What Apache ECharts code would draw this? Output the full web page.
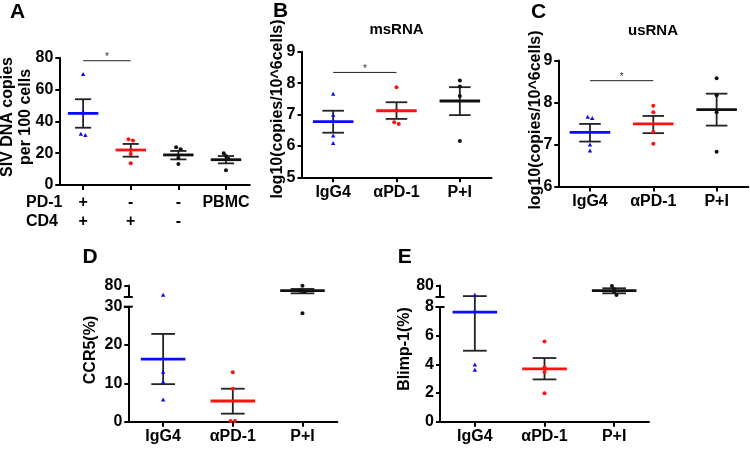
<!DOCTYPE html>
<html><head><meta charset="utf-8">
<script src="https://cdn.jsdelivr.net/npm/echarts/dist/echarts.min.js"></script>
<style>html,body{margin:0;padding:0;background:#fff}#c{width:750px;height:449px}</style>
</head><body><div id="c"></div>
<script>
const FONT = '"Liberation Sans", Arial, Helvetica, sans-serif';

// ---------- Panel A : SIV DNA ----------
const aPD1Row = ['+', '-', '-', 'PBMC'];
const aCD4Row = ['+', '+', '-', ''];
const aYTicks = [0, 20, 40, 60, 80];
const aMean = [45.0, 22.0, 18.9, 15.9];
const aSemLow = [36.0, 17.8, 16.1, 13.6];
const aSemHigh = [53.9, 25.8, 21.4, 18.2];
const aPtsG0 = [69.5, 46.0, 32.0, 31.2];
const aPtsG1 = [28.7, 28.0, 19.5, 13.6];
const aPtsG2 = [23.7, 22.4, 17.0, 13.2];
const aPtsG3 = [19.9, 18.2, 16.5, 9.2];
const aSig = [0, 1, 78.1];

// ---------- shared categories ----------
const groupCats = ['IgG4', 'αPD-1', 'P+I'];

// ---------- Panel B : msRNA ----------
const bTitle = 'msRNA';
const bYTicks = [5, 6, 7, 8, 9];
const bMean = [6.77, 7.12, 7.43];
const bSemLow = [6.42, 6.86, 6.98];
const bSemHigh = [7.12, 7.39, 7.87];
const bPtsG0 = [7.65, 6.98, 6.32, 6.08];
const bPtsG1 = [7.87, 7.14, 6.75, 6.70];
const bPtsG2 = [8.08, 7.89, 7.59, 6.16];
const bSig = [0, 1, 8.34];

// ---------- Panel C : usRNA ----------
const cTitle = 'usRNA';
const cYTicks = [6, 7, 8, 9];
const cMean = [7.29, 7.49, 7.83];
const cSemLow = [7.07, 7.27, 7.45];
const cSemHigh = [7.49, 7.68, 8.21];
const cPtsG0 = [7.65, 7.62, 6.99, 6.85];
const cPtsG1 = [7.92, 7.77, 7.30, 7.02];
const cPtsG2 = [8.58, 8.17, 7.77, 6.83];
const cSig = [0, 1, 8.52];

// ---------- Panel D : CCR5 (broken axis) ----------
const dLowTicks = [0, 10, 20, 30];
const dHighTicks = [70, 80];
const dHighLabels = [80];
const dMean = [16.3, 5.4, 75.5];
const dSemLow = [9.8, 2.1, 73.2];
const dSemHigh = [22.9, 8.6, 77.0];
const dPtsG0 = [33.0, 12.9, 10.3, 5.7];
const dPtsG1 = [12.9, 8.6, 0.2, 0.2];
const dPtsG2 = [79.8, 75.4, 74.5, 28.3];

// ---------- Panel E : Blimp-1 (broken axis) ----------
const eLowTicks = [0, 2, 4, 6, 8];
const eHighTicks = [70, 80];
const eHighLabels = [80];
const eMean = [7.64, 3.69, 75.5];
const eSemLow = [4.95, 2.95, 73.2];
const eSemHigh = [8.76, 4.44, 77.6];
const ePtsG0 = [8.83, 7.71, 3.97, 3.60];
const ePtsG1 = [5.60, 3.79, 3.46, 1.98];
const ePtsG2 = [79.6, 77.0, 74.6, 71.7];

// ---------- styles ----------
const BLUE = '#0b0bf5', RED = '#ff1111', BLACK = '#111111', BAR = '#222222';
const colors4 = [BLUE, RED, BLACK, BLACK];
const shapes4 = ['triangle', 'circle', 'circle', 'circle'];

const grids = [
  {left: 59.3, top: 57.7, width: 190.5, height: 127.3},   // A
  {left: 301.5, top: 51.7, width: 190, height: 125.6},    // B
  {left: 558.3, top: 60.5, width: 190, height: 126},      // C
  {left: 128.3, top: 306.7, width: 209, height: 115},     // D low
  {left: 128.3, top: 285.5, width: 209, height: 11.5},    // D high
  {left: 440, top: 307, width: 209, height: 114.7},       // E low
  {left: 440, top: 285.5, width: 209, height: 11.5}       // E high
];

function xAxisCfg(gi, cats, extra) {
  return Object.assign({
    gridIndex: gi, type: 'category', data: cats, boundaryGap: true,
    axisLine: {show: true, onZero: false, lineStyle: {color: '#000', width: 2}},
    axisTick: {show: true, alignWithLabel: true, length: 5, lineStyle: {color: '#000', width: 2}},
    axisLabel: {show: true, interval: 0, color: '#000', fontFamily: FONT, fontWeight: 'bold', fontSize: 16, margin: 7},
    splitLine: {show: false}
  }, extra || {});
}
function yAxisCfg(gi, ticks, extra) {
  return Object.assign({
    gridIndex: gi, type: 'value', min: ticks[0], max: ticks[ticks.length - 1], interval: ticks[1] - ticks[0],
    axisLine: {show: true, lineStyle: {color: '#000', width: 2}},
    axisTick: {show: true, length: 4, lineStyle: {color: '#000', width: 2}},
    axisLabel: {color: '#000', fontFamily: FONT, fontWeight: 'bold', fontSize: 16, margin: 6},
    splitLine: {show: false}
  }, extra || {});
}
const hiddenX = {axisLine: {show: false}, axisTick: {show: false}, axisLabel: {show: false}};

const aCats = aPD1Row.map((p, i) => p + '\n' + aCD4Row[i]);

const xAxes = [
  xAxisCfg(0, aCats, {axisLabel: {show: true, interval: 0, color: '#000', fontFamily: FONT, fontWeight: 'bold', fontSize: 16, margin: 8.5, lineHeight: 19}}),
  xAxisCfg(1, groupCats),
  xAxisCfg(2, groupCats),
  xAxisCfg(3, groupCats),
  xAxisCfg(4, groupCats, hiddenX),
  xAxisCfg(5, groupCats),
  xAxisCfg(6, groupCats, hiddenX)
];
const yAxes = [
  yAxisCfg(0, aYTicks),
  yAxisCfg(1, bYTicks),
  yAxisCfg(2, cYTicks),
  yAxisCfg(3, dLowTicks),
  yAxisCfg(4, dHighTicks, {axisLabel: {color: '#000', fontFamily: FONT, fontWeight: 'bold', fontSize: 16, margin: 6,
    formatter: v => dHighLabels.indexOf(v) >= 0 ? String(v) : ''}}),
  yAxisCfg(5, eLowTicks),
  yAxisCfg(6, eHighTicks, {axisLabel: {color: '#000', fontFamily: FONT, fontWeight: 'bold', fontSize: 16, margin: 6,
    formatter: v => eHighLabels.indexOf(v) >= 0 ? String(v) : ''}})
];

// mean + SEM bars
function errSeries(ai, items) { // items: [g, mean, lo, hi, color]
  return {
    type: 'custom', xAxisIndex: ai, yAxisIndex: ai, z: 3, silent: true,
    data: items.map((it, i) => [it[0], it[1], it[2], it[3], i]),
    renderItem(params, api) {
      const g = api.value(0), m = api.value(1), lo = api.value(2), hi = api.value(3);
      const col = items[api.value(4)][4];
      const bw = api.size([1, 0])[0];
      const pm = api.coord([g, m]), pl = api.coord([g, lo]), ph = api.coord([g, hi]);
      const cap = bw * 0.17, mw = bw * 0.32, x = pm[0];
      return {type: 'group', children: [
        {type: 'line', shape: {x1: x, y1: pl[1], x2: x, y2: ph[1]}, style: {stroke: BAR, lineWidth: 1.8}},
        {type: 'line', shape: {x1: x - cap, y1: pl[1], x2: x + cap, y2: pl[1]}, style: {stroke: BAR, lineWidth: 1.8}},
        {type: 'line', shape: {x1: x - cap, y1: ph[1], x2: x + cap, y2: ph[1]}, style: {stroke: BAR, lineWidth: 1.8}},
        {type: 'line', shape: {x1: x - mw, y1: pm[1], x2: x + mw, y2: pm[1]}, style: {stroke: col, lineWidth: 2.8}}
      ]};
    }
  };
}

// individual points (with simple overlap spreading)
function ptsSeries(ai, pts) { // pts: [g, v, color, shape]
  return {
    type: 'custom', xAxisIndex: ai, yAxisIndex: ai, z: 4, silent: true,
    data: pts.map((p, i) => [p[0], p[1], i]),
    renderItem(params, api) {
      const idx = api.value(2);
      const p = pts[idx];
      const c = api.coord([p[0], p[1]]);
      const same = [];
      pts.forEach((q, j) => {
        if (q[0] === p[0]) {
          const cq = api.coord([q[0], q[1]]);
          if (Math.abs(cq[1] - c[1]) < 4) same.push(j);
        }
      });
      const rank = same.indexOf(idx);
      const x = c[0] + (rank - (same.length - 1) / 2) * 4.5, y = c[1];
      if (p[3] === 'triangle') {
        return {type: 'polygon', shape: {points: [[x, y - 2.4], [x - 2.2, y + 1.6], [x + 2.2, y + 1.6]]}, style: {fill: p[2]}};
      }
      return {type: 'circle', shape: {cx: x, cy: y, r: 2}, style: {fill: p[2]}};
    }
  };
}

function sigSeries(ai, sig) {
  return {
    type: 'custom', xAxisIndex: ai, yAxisIndex: ai, z: 5, silent: true, data: [sig],
    renderItem(params, api) {
      const a = api.coord([api.value(0), api.value(2)]), b = api.coord([api.value(1), api.value(2)]);
      return {type: 'group', children: [
        {type: 'line', shape: {x1: a[0], y1: a[1], x2: b[0], y2: b[1]}, style: {stroke: '#222', lineWidth: 1}},
        {type: 'text', style: {text: '*', x: (a[0] + b[0]) / 2, y: a[1] - 3, font: '10px ' + FONT, fill: '#333',
          align: 'center', verticalAlign: 'middle', textAlign: 'center', textVerticalAlign: 'middle'}}
      ]};
    }
  };
}

function breakCap(ai, yv, where) {
  return {
    type: 'custom', xAxisIndex: ai, yAxisIndex: ai, z: 6, silent: true, data: [[0, yv]],
    renderItem(params, api) {
      const cs = params.coordSys;
      const y = where === 'bottom' ? cs.y + cs.height : cs.y;
      return {type: 'line', shape: {x1: cs.x - 4.5, y1: y, x2: cs.x + 4.5, y2: y}, style: {stroke: '#000', lineWidth: 2}};
    }
  };
}

function ptsFrom(groups, cols, shapes, filter) {
  const out = [];
  groups.forEach((arr, g) => arr.forEach(v => { if (!filter || filter(v)) out.push([g, v, cols[g], shapes[g]]); }));
  return out;
}
function errFrom(means, lo, hi, cols, filter) {
  const out = [];
  means.forEach((m, g) => { if (!filter || filter(m)) out.push([g, m, lo[g], hi[g], cols[g]]); });
  return out;
}

const series = [];
// A
series.push(errSeries(0, errFrom(aMean, aSemLow, aSemHigh, colors4)));
series.push(ptsSeries(0, ptsFrom([aPtsG0, aPtsG1, aPtsG2, aPtsG3], colors4, shapes4)));
series.push(sigSeries(0, aSig));
// B
series.push(errSeries(1, errFrom(bMean, bSemLow, bSemHigh, colors4)));
series.push(ptsSeries(1, ptsFrom([bPtsG0, bPtsG1, bPtsG2], colors4, shapes4)));
series.push(sigSeries(1, bSig));
// C
series.push(errSeries(2, errFrom(cMean, cSemLow, cSemHigh, colors4)));
series.push(ptsSeries(2, ptsFrom([cPtsG0, cPtsG1, cPtsG2], colors4, shapes4)));
series.push(sigSeries(2, cSig));
// D
const dLowF = v => v < dHighTicks[0], dHighF = v => v >= dHighTicks[0];
series.push(errSeries(3, errFrom(dMean, dSemLow, dSemHigh, colors4, dLowF)));
series.push(ptsSeries(3, ptsFrom([dPtsG0, dPtsG1, dPtsG2], colors4, shapes4, dLowF)));
series.push(errSeries(4, errFrom(dMean, dSemLow, dSemHigh, colors4, dHighF)));
series.push(ptsSeries(4, ptsFrom([dPtsG0, dPtsG1, dPtsG2], colors4, shapes4, dHighF)));
series.push(breakCap(4, dHighTicks[0], 'bottom'));
series.push(breakCap(3, dLowTicks[dLowTicks.length - 1], 'top'));
// E
const eLowF = v => v < eHighTicks[0], eHighF = v => v >= eHighTicks[0];
series.push(errSeries(5, errFrom(eMean, eSemLow, eSemHigh, colors4, eLowF)));
series.push(ptsSeries(5, ptsFrom([ePtsG0, ePtsG1, ePtsG2], colors4, shapes4, eLowF)));
series.push(errSeries(6, errFrom(eMean, eSemLow, eSemHigh, colors4, eHighF)));
series.push(ptsSeries(6, ptsFrom([ePtsG0, ePtsG1, ePtsG2], colors4, shapes4, eHighF)));
series.push(breakCap(6, eHighTicks[0], 'bottom'));
series.push(breakCap(5, eLowTicks[eLowTicks.length - 1], 'top'));

function txt(t, x, y, size, opts) {
  opts = opts || {};
  const align = opts.align || 'center';
  return {type: 'text', x: x, y: y, rotation: opts.rot || 0, silent: true,
    style: {text: t, font: (opts.weight || 'bold') + ' ' + size + 'px ' + FONT, fill: '#000',
      align: align, verticalAlign: 'middle', textAlign: align, textVerticalAlign: 'middle',
      lineHeight: opts.lh || size}};
}
const R = Math.PI / 2;
const graphic = [
  txt('A', 17.5, 12.5, 21), txt('B', 280.5, 11, 21), txt('C', 538.5, 12.5, 21),
  txt('D', 90, 257.5, 21), txt('E', 404.7, 257.5, 21),
  txt(bTitle, 396.5, 29.5, 15), txt(cTitle, 653, 31.3, 15),
  txt('SIV DNA copies\nper 100 cells', 17, 117, 16, {rot: R, lh: 18}),
  txt('log10(copies/10^6cells)', 278, 109, 16, {rot: R}),
  txt('log10(copies/10^6cells)', 536, 120, 16, {rot: R}),
  txt('CCR5(%)', 91, 350, 16, {rot: R}),
  txt('Blimp-1(%)', 405, 349, 16, {rot: R}),
  txt('PD-1', 26, 203, 16, {align: 'left'}),
  txt('CD4', 26, 222, 16, {align: 'left'})
];

const chart = echarts.init(document.getElementById('c'), null, {renderer: 'canvas'});
chart.setOption({
  animation: false,
  backgroundColor: '#fff',
  grid: grids,
  xAxis: xAxes,
  yAxis: yAxes,
  series: series,
  graphic: graphic
});
</script>
</body></html>
